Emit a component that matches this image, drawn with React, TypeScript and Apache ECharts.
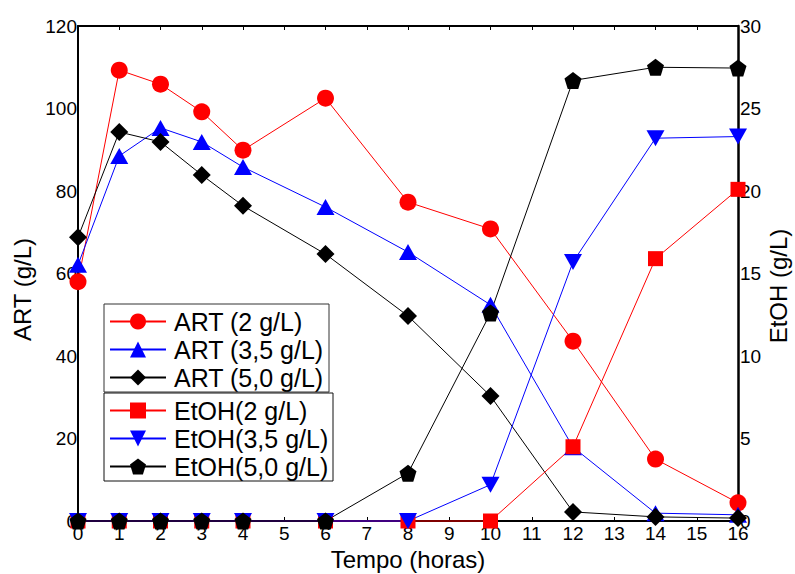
import React, { useEffect, useRef } from "react";
import * as echarts from "echarts";

const hours = [0, 1, 2, 3, 4, 6, 8, 10, 12, 14, 16];
const art2 = [58, 109.3, 105.9, 99.2, 89.9, 102.5, 77.3, 70.8, 43.6, 15.0, 4.4];
const art35 = [62.1, 88.5, 95.3, 91.9, 85.8, 76.1, 65.2, 52.4, 17.9, 1.9, 1.5];
const art50 = [68.8, 94.3, 91.9, 83.9, 76.4, 64.7, 49.7, 30.3, 2.2, 1.0, 0.7];
const etoh2 = [0, 0, 0, 0, 0, 0, 0, 0, 4.5, 15.9, 20.1];
const etoh35 = [0, 0, 0, 0, 0, 0, 0, 2.2, 15.7, 23.2, 23.3];
const etoh50 = [0, 0, 0, 0, 0, 0, 2.9, 12.6, 26.7, 27.5, 27.45];

const artNames = ["ART (2 g/L)", "ART (3,5 g/L)", "ART (5,0 g/L)"];
const etohNames = ["EtOH(2 g/L)", "EtOH(3,5 g/L)", "EtOH(5,0 g/L)"];
const rightTitle = "EtOH (g/L)";

const FONT = "'Liberation Sans', Arial, sans-serif";
const PENTAGON =
  "path://M0,-1 L0.951,-0.309 L0.588,0.809 L-0.588,0.809 L-0.951,-0.309 Z";

function pairs(vals: number[]) {
  return hours.map((h, i) => [h, vals[i]]);
}

export default function App() {
  const ref = useRef<HTMLDivElement>(null);
  useEffect(() => {
    if (!ref.current) return;
    const chart = echarts.init(ref.current, null, { renderer: "svg" });
    const mk = (
      name: string,
      vals: number[],
      color: string,
      symbol: string,
      size: number | number[],
      yAxisIndex: number,
      rotate = 0
    ) => ({
      name,
      type: "line",
      data: pairs(vals),
      yAxisIndex,
      symbol,
      symbolSize: size,
      symbolRotate: rotate,
      showAllSymbol: true,
      clip: false,
      lineStyle: { color, width: 1 },
      itemStyle: { color, opacity: 1 },
      emphasis: { disabled: true },
    });
    const legendBase = {
      orient: "vertical",
      left: 104,
      itemWidth: 56,
      itemHeight: 20,
      itemGap: 3,
      padding: [5, 5, 3, 5],
      textStyle: {
        fontFamily: FONT,
        fontSize: 25,
        lineHeight: 25,
        color: "#000",
        padding: [0, 0, 0, 3],
      },
      selectedMode: false,
    };
    const axisFont = { fontFamily: FONT, fontSize: 19, color: "#000" };
    chart.setOption({
      animation: false,
      backgroundColor: "#fff",
      grid: { left: 78, right: 57, top: 26, bottom: 53, outerBoundsMode: "none", containLabel: false },
      legend: [
        { ...legendBase, top: 304, data: artNames },
        { ...legendBase, top: 393, data: etohNames },
      ],
      graphic: [
        {
          type: "rect",
          shape: { x: 104, y: 304, width: 225, height: 88 },
          style: { fill: "none", stroke: "#333", lineWidth: 1 },
          z: 10,
        },
        {
          type: "rect",
          shape: { x: 104, y: 393, width: 229, height: 88 },
          style: { fill: "none", stroke: "#111", lineWidth: 1 },
          z: 10,
        },
        {
          type: "text",
          x: 778,
          y: 286,
          rotation: Math.PI / 2,
          style: {
            text: rightTitle,
            fontFamily: FONT,
            fontSize: 24,
            fill: "#000",
            align: "center",
            verticalAlign: "middle",
          },
          z: 10,
        },
      ],
      xAxis: [
        {
          type: "value",
          min: 0,
          max: 16,
          interval: 1,
          name: "Tempo (horas)",
          nameLocation: "middle",
          nameGap: 26,
          nameTextStyle: { fontFamily: FONT, fontSize: 24, color: "#000", lineHeight: 24 },
          axisLine: { show: true, onZero: false, lineStyle: { color: "#000", width: 2 } },
          axisTick: { show: true, inside: true, length: 4, lineStyle: { color: "#000" } },
          axisLabel: { ...axisFont, margin: 3 },
          splitLine: { show: false },
        },
        {
          type: "value",
          position: "top",
          min: 0,
          max: 16,
          interval: 1,
          axisLine: { show: true, onZero: false, lineStyle: { color: "#000", width: 2 } },
          axisTick: { show: true, inside: true, length: 4, lineStyle: { color: "#000" } },
          axisLabel: { show: false },
          splitLine: { show: false },
        },
      ],
      yAxis: [
        {
          type: "value",
          min: 0,
          max: 120,
          interval: 20,
          name: "ART (g/L)",
          nameLocation: "middle",
          nameRotate: 90,
          nameGap: 38,
          nameTextStyle: { fontFamily: FONT, fontSize: 24, color: "#000", lineHeight: 24, padding: [0, 32, 0, 0] },
          axisLine: { show: true, onZero: false, lineStyle: { color: "#000", width: 2 } },
          axisTick: { show: false },
          axisLabel: { ...axisFont, margin: 1 },
          splitLine: { show: false },
        },
        {
          type: "value",
          position: "right",
          min: 0,
          max: 30,
          interval: 5,
          axisLine: { show: true, onZero: false, lineStyle: { color: "#000", width: 2.5 } },
          axisTick: { show: false },
          axisLabel: { ...axisFont, margin: 2 },
          splitLine: { show: false },
        },
      ],
      series: [
        mk(artNames[0], art2, "#ff0000", "circle", 17, 0),
        mk(artNames[1], art35, "#0000ff", "triangle", [18, 16], 0),
        mk(artNames[2], art50, "#000000", "diamond", 18, 0),
        mk(etohNames[0], etoh2, "#ff0000", "rect", 15, 1),
        mk(etohNames[1], etoh35, "#0000ff", "triangle", [18, 16], 1, 180),
        mk(etohNames[2], etoh50, "#000000", PENTAGON, 17, 1),
      ],
    });
    return () => chart.dispose();
  }, []);
  return (
    <div
      ref={ref}
      style={{ position: "fixed", left: 0, top: 0, width: 795, height: 574 }}
    />
  );
}
